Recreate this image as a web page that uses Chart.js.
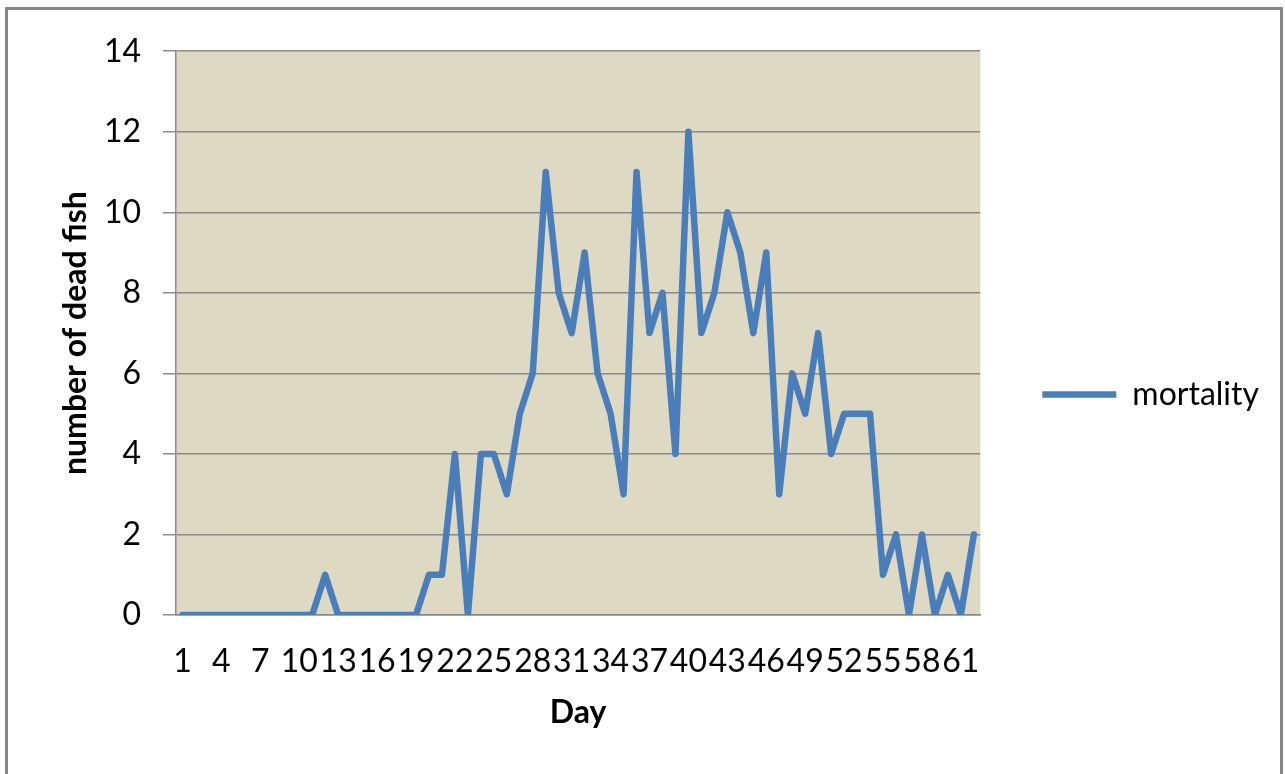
<!DOCTYPE html>
<html>
<head>
<meta charset="utf-8">
<script src="https://cdn.jsdelivr.net/npm/chart.js@4.4.0/dist/chart.umd.min.js"></script>
<style>
  html, body { margin: 0; padding: 0; background: #fff; overflow: hidden; }
  #frame {
    position: absolute; left: 5px; top: 7px;
    width: 1272px; height: 800px;
    border: 3px solid #878787;
    background: #fff;
  }
  #wrap { position: absolute; left: 0; top: 0; width: 1272px; height: 764px; }
</style>
</head>
<body>
<div id="frame"><div id="wrap"><canvas id="chart"></canvas></div></div>
<script>
// ── Data ──────────────────────────────────
const DAYS = [
  1, 2, 3, 4, 5, 6, 7, 8, 9, 10, 11, 12, 13, 14, 15, 16, 17, 18, 19, 20, 21,
  22, 23, 24, 25, 26, 27, 28, 29, 30, 31, 32, 33, 34, 35, 36, 37, 38, 39, 40, 41,
  42, 43, 44, 45, 46, 47, 48, 49, 50, 51, 52, 53, 54, 55, 56, 57, 58, 59, 60, 61, 62
];
const MORTALITY = [
  0, 0, 0, 0, 0, 0, 0, 0, 0, 0, 0, 1, 0, 0, 0, 0, 0, 0, 0, 1, 1,
  4, 0, 4, 4, 3, 5, 6, 11, 8, 7, 9, 6, 5, 3, 11, 7, 8, 4, 12, 7,
  8, 10, 9, 7, 9, 3, 6, 5, 7, 4, 5, 5, 5, 1, 2, 0, 2, 0, 1, 0, 2
];
const SERIES_LABEL = 'mortality';
const X_TITLE = 'Day';
const Y_TITLE = 'number of dead fish';

// ── Style ─────────────────────────────────
const FONT = "Lato, 'Open Sans', sans-serif";
const LINE_BLUE = '#4A7EBB';
const GRID = '#8a8a8a';

// plot area fill
const plotBg = {
  id: 'plotBg',
  beforeDraw(chart) {
    const { ctx, chartArea: a } = chart;
    ctx.save();
    ctx.fillStyle = '#DDD9C3';
    ctx.fillRect(a.left, a.top, a.right - a.left, a.bottom - a.top);
    ctx.restore();
  }
};

new Chart(document.getElementById('chart'), {
  type: 'line',
  data: {
    labels: DAYS,
    datasets: [{
      label: SERIES_LABEL,
      data: MORTALITY,
      borderColor: LINE_BLUE,
      backgroundColor: LINE_BLUE,
      borderWidth: 6.5,
      borderJoinStyle: 'round',
      borderCapStyle: 'round',
      tension: 0,
      pointRadius: 0,
      pointStyle: 'line',
      fill: false,
    }],
  },
  options: {
    responsive: true,
    maintainAspectRatio: false,
    animation: false,
    layout: { padding: { top: 35, right: 11, bottom: 30, left: 0 } },
    plugins: {
      legend: {
        position: 'right',
        labels: {
          usePointStyle: true,
          pointStyle: 'line',
          pointStyleWidth: 74,
          padding: 62,
          color: '#000',
          font: { family: FONT, size: 32 },
        },
      },
      tooltip: { enabled: false },
    },
    scales: {
      x: {
        type: 'category',
        offset: true,
        afterFit: s => { s.height = 129; },
        grid: { display: false, drawTicks: false },
        border: { display: true, color: GRID, width: 1.5 },
        ticks: {
          autoSkip: false,
          maxRotation: 0,
          minRotation: 0,
          padding: 27,
          color: '#000',
          font: { family: FONT, size: 32 },
          callback: (v, i) => (i % 3 === 0 ? DAYS[i] : ''),
        },
        title: {
          display: true,
          text: X_TITLE,
          color: '#000',
          font: { family: FONT, size: 32, weight: 'bold' },
          padding: { top: 0, bottom: 12 },
        },
      },
      y: {
        min: 0,
        max: 14,
        afterFit: s => { s.width = 168; },
        grid: { color: GRID, lineWidth: 1.5, tickLength: 13 },
        border: { display: true, color: GRID, width: 1.5 },
        ticks: {
          stepSize: 2,
          padding: 22,
          color: '#000',
          font: { family: FONT, size: 32 },
        },
        title: {
          display: true,
          text: Y_TITLE,
          color: '#000',
          font: { family: FONT, size: 32, weight: 'bold' },
          padding: { top: 48, bottom: 0 },
        },
      },
    },
  },
  plugins: [plotBg],
});
</script>
</body>
</html>
